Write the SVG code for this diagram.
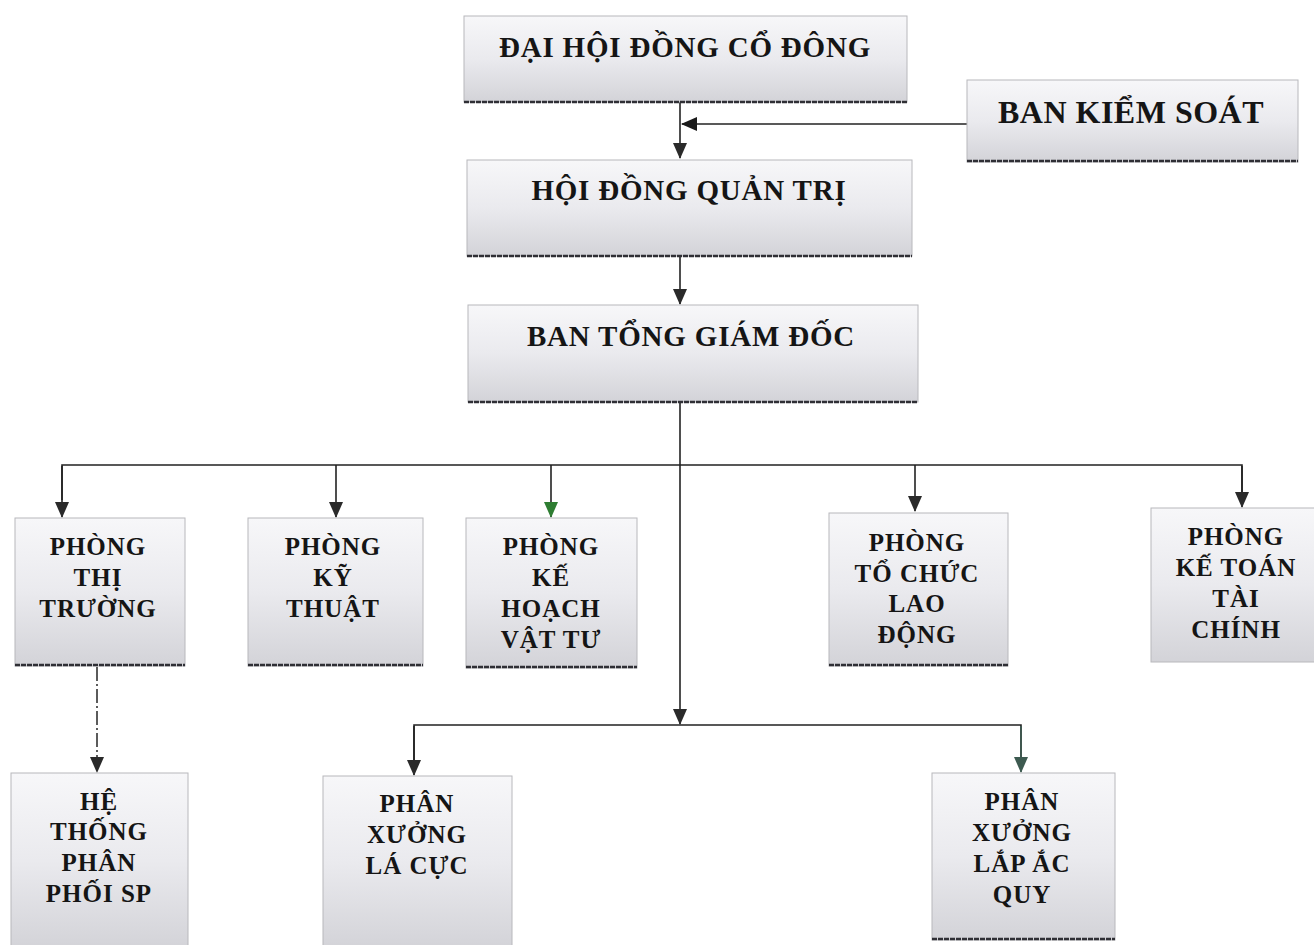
<svg xmlns="http://www.w3.org/2000/svg" width="1314" height="945" viewBox="0 0 1314 945">
<defs>
<linearGradient id="g" x1="0" y1="0" x2="0" y2="1">
<stop offset="0" stop-color="#f7f7f9"/>
<stop offset="0.5" stop-color="#eaeaee"/>
<stop offset="1" stop-color="#d3d3d8"/>
</linearGradient>
<marker id="ah" markerUnits="userSpaceOnUse" markerWidth="14" markerHeight="16" refX="7" refY="15" orient="0" viewBox="0 0 14 16">
<path d="M0,0 L14,0 L7,16 Z" fill="#2a2a2a"/>
</marker>
<marker id="ahl" markerUnits="userSpaceOnUse" markerWidth="16" markerHeight="14" refX="1" refY="7" orient="0" viewBox="0 0 16 14">
<path d="M0,7 L16,0 L16,14 Z" fill="#1a1a1a"/>
</marker>
<marker id="ahg" markerUnits="userSpaceOnUse" markerWidth="14" markerHeight="16" refX="7" refY="15" orient="0" viewBox="0 0 14 16">
<path d="M0,0 L14,0 L7,16 Z" fill="#2e7d32"/>
</marker>
<marker id="aht" markerUnits="userSpaceOnUse" markerWidth="14" markerHeight="16" refX="7" refY="15" orient="0" viewBox="0 0 14 16">
<path d="M0,0 L14,0 L7,16 Z" fill="#3d5a50"/>
</marker>
</defs>
<style>
.box{fill:url(#g);stroke:#b8b8bc;stroke-width:1}
.bb{stroke:#2f2f35;stroke-width:2.5;stroke-dasharray:5 1}
.t{font-family:"Liberation Serif","Times New Roman",serif;font-weight:bold;fill:#151515;text-anchor:middle}
.big{font-size:29px;letter-spacing:0.8px}
.sm{font-size:25px;letter-spacing:1px}
.c{fill:none;stroke:#222;stroke-width:1.6}
</style>
<rect width="1314" height="945" fill="#ffffff"/>

<g id="connectors">
<line class="c" x1="680" y1="102" x2="680" y2="158" marker-end="url(#ah)"/>
<line class="c" x1="967" y1="124" x2="682" y2="124" marker-end="url(#ahl)"/>
<line class="c" x1="680" y1="256" x2="680" y2="304" marker-end="url(#ah)"/>
<line class="c" x1="680" y1="402" x2="680" y2="724" marker-end="url(#ah)"/>
<polyline class="c" points="62,500 62,465 1242,465 1242,500"/>
<line class="c" x1="62" y1="466" x2="62" y2="517" marker-end="url(#ah)"/>
<line class="c" x1="336" y1="465" x2="336" y2="517" marker-end="url(#ah)"/>
<line class="c" x1="551" y1="465" x2="551" y2="517" marker-end="url(#ahg)"/>
<line class="c" x1="915" y1="465" x2="915" y2="511" marker-end="url(#ah)"/>
<line class="c" x1="1242" y1="466" x2="1242" y2="507" marker-end="url(#ah)"/>
<polyline class="c" points="414,760 414,725 1021,725 1021,760"/>
<line class="c" x1="414" y1="726" x2="414" y2="775" marker-end="url(#ah)"/>
<line x1="1021" y1="726" x2="1021" y2="772" stroke="#3d5a50" stroke-width="1.6" marker-end="url(#aht)"/>
<line x1="97" y1="667" x2="97" y2="772" stroke="#333" stroke-width="1.6" stroke-dasharray="14 3 2 3" marker-end="url(#ah)"/>
</g>

<g id="dhdcd">
<rect class="box" x="464" y="16" width="443" height="86"/>
<line class="bb" x1="464" y1="102" x2="907" y2="102"/>
<text class="t big" x="685" y="57">ĐẠI HỘI ĐỒNG CỔ ĐÔNG</text>
</g>

<g id="bks">
<rect class="box" x="967" y="80" width="331" height="82"/>
<line class="bb" x1="967" y1="161" x2="1298" y2="161"/>
<text class="t" x="1131" y="123" font-size="32" letter-spacing="0.5">BAN KIỂM SOÁT</text>
</g>

<g id="hdqt">
<rect class="box" x="467" y="160" width="445" height="96"/>
<line class="bb" x1="467" y1="256" x2="912" y2="256"/>
<text class="t big" x="689" y="200">HỘI ĐỒNG QUẢN TRỊ</text>
</g>

<g id="btgd">
<rect class="box" x="468" y="305" width="450" height="97"/>
<line class="bb" x1="468" y1="402" x2="918" y2="402"/>
<text class="t big" x="691" y="346">BAN TỔNG GIÁM ĐỐC</text>
</g>

<g id="ptt">
<rect class="box" x="15" y="518" width="170" height="148"/>
<line class="bb" x1="15" y1="665" x2="185" y2="665"/>
<text class="t sm" x="98" y="555">PHÒNG</text>
<text class="t sm" x="98" y="586">THỊ</text>
<text class="t sm" x="98" y="617">TRƯỜNG</text>
</g>

<g id="pkt">
<rect class="box" x="248" y="518" width="175" height="148"/>
<line class="bb" x1="248" y1="665" x2="423" y2="665"/>
<text class="t sm" x="333" y="555">PHÒNG</text>
<text class="t sm" x="333" y="586">KỸ</text>
<text class="t sm" x="333" y="617">THUẬT</text>
</g>

<g id="pkhvt">
<rect class="box" x="466" y="518" width="171" height="150"/>
<line class="bb" x1="466" y1="667" x2="637" y2="667"/>
<text class="t sm" x="551" y="555">PHÒNG</text>
<text class="t sm" x="551" y="586">KẾ</text>
<text class="t sm" x="551" y="617">HOẠCH</text>
<text class="t sm" x="551" y="648">VẬT TƯ</text>
</g>

<g id="ptcld">
<rect class="box" x="829" y="513" width="179" height="153"/>
<line class="bb" x1="829" y1="665" x2="1008" y2="665"/>
<text class="t sm" x="917" y="551">PHÒNG</text>
<text class="t sm" x="917" y="582">TỔ CHỨC</text>
<text class="t sm" x="917" y="612">LAO</text>
<text class="t sm" x="917" y="643">ĐỘNG</text>
</g>

<g id="pktc">
<rect class="box" x="1151" y="508" width="165" height="154"/>
<text class="t sm" x="1236" y="545">PHÒNG</text>
<text class="t sm" x="1236" y="576">KẾ TOÁN</text>
<text class="t sm" x="1236" y="607">TÀI</text>
<text class="t sm" x="1236" y="638">CHÍNH</text>
</g>

<g id="htpp">
<rect class="box" x="11" y="773" width="177" height="175"/>
<text class="t sm" x="99" y="810">HỆ</text>
<text class="t sm" x="99" y="840">THỐNG</text>
<text class="t sm" x="99" y="871">PHÂN</text>
<text class="t sm" x="99" y="902">PHỐI SP</text>
</g>

<g id="pxlc">
<rect class="box" x="323" y="776" width="189" height="172"/>
<text class="t sm" x="417" y="812">PHÂN</text>
<text class="t sm" x="417" y="843">XƯỞNG</text>
<text class="t sm" x="417" y="874">LÁ CỰC</text>
</g>

<g id="pxlaq">
<rect class="box" x="932" y="773" width="183" height="167"/>
<line class="bb" x1="932" y1="939" x2="1115" y2="939"/>
<text class="t sm" x="1022" y="810">PHÂN</text>
<text class="t sm" x="1022" y="841">XƯỞNG</text>
<text class="t sm" x="1022" y="872">LẮP ẮC</text>
<text class="t sm" x="1022" y="903">QUY</text>
</g>
</svg>
